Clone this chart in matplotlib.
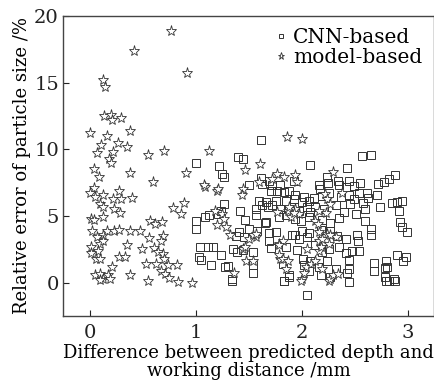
import matplotlib
matplotlib.use("Agg")
import matplotlib.pyplot as plt

# model-based (stars)
model_x = [0.77,0.42,0.92,0.125,0.145,0.14,0.20,0.21,0.30,0.00,0.16,0.38,0.27,0.11,0.355,0.07,0.22,0.18,0.20,0.55,
           0.70,1.13,0.045,0.085,0.38,0.60,0.91,1.47,0.04,0.00,0.05,0.125,0.10,0.13,0.22,0.30,0.40,0.28,0.23,0.285,
           0.125,0.015,0.04,1.09,1.20,0.89,0.79,0.86,0.57,0.62,0.68,0.02,0.125,0.07,0.16,0.235,0.28,0.38,0.48,0.095,
           0.015,0.08,0.015,0.125,0.355,0.56,0.69,0.67,0.49,0.61,0.65,0.69,0.70,0.06,0.10,0.275,0.33,0.21,0.53,0.63,
           0.74,0.82,0.67,0.715,0.75,0.05,0.095,0.125,0.17,0.19,0.095,0.38,0.555,0.83,0.97,1.45,1.44,1.185,1.25,1.27,
           1.20,1.29,1.32,1.45,1.48,1.36,1.86,2.00,1.61,2.30,1.77,1.83,1.94,1.96,1.08,1.21,1.77,1.87,1.94,1.98,
           1.90,2.38,1.57,1.50,2.05,1.79,1.80,1.85,2.00,1.99,2.26,1.60,1.72,2.22,2.24,2.27,2.16,2.23,1.88,1.93,
           2.13,2.16,2.24,2.32,2.16,2.16,1.82,1.79,1.79,1.82,1.87,2.04,2.09,2.13,2.02,2.27,2.30,2.34,1.54,1.47,
           1.54,1.57,2.19,2.27,2.18,2.26,2.19,2.15]
model_y = [18.9,17.4,15.7,15.2,14.7,12.5,12.6,12.2,12.35,11.2,11.0,11.4,10.5,10.3,10.15,9.7,9.8,9.3,9.0,9.6,
           9.9,9.9,8.55,7.9,8.2,7.55,8.2,8.45,7.1,6.7,6.4,6.6,5.9,5.7,6.3,6.3,6.35,6.9,5.55,5.25,
           4.95,4.8,4.7,7.2,6.9,5.95,5.6,5.15,4.65,4.4,4.55,3.85,3.55,3.4,3.9,3.9,3.95,3.85,3.9,2.9,
           2.65,2.4,2.25,3.15,2.85,3.35,3.5,3.15,2.55,2.6,2.3,2.15,1.8,1.75,1.8,1.9,1.9,1.2,1.4,1.4,
           1.3,1.3,0.85,0.65,0.35,0.6,0.65,0.3,0.6,0.3,0.2,0.55,0.15,0.05,0.0,7.0,6.55,5.4,5.15,4.8,
           4.3,4.15,3.55,2.5,1.65,0.7,10.9,10.8,8.9,8.3,8.15,7.9,8.1,7.55,7.3,7.05,5.3,5.4,5.55,5.15,
           4.9,6.7,3.45,3.3,2.55,2.9,1.8,1.05,0.3,0.15,0.15,7.55,7.8,6.65,6.3,5.9,5.4,5.2,5.65,5.2,
           4.65,3.8,3.65,3.4,3.15,2.4,3.15,2.8,2.05,1.75,1.65,1.15,1.4,1.65,0.75,0.3,0.55,0.65,1.65,2.65,
           3.55,3.65,3.3,3.55,2.65,2.9,1.05,4.4]

# CNN-based (squares)
cnn_x = [1.00,1.225,1.25,1.27,1.40,1.45,1.00,1.00,1.09,1.27,1.235,1.21,1.42,1.04,1.12,1.16,1.03,1.05,1.15,1.235,
         1.28,1.31,1.345,1.35,1.395,1.45,1.38,1.50,1.62,2.565,2.65,2.08,2.43,2.24,2.34,2.72,2.775,2.825,2.88,2.16,
         2.17,2.415,2.49,2.54,2.71,2.63,2.58,2.46,2.49,2.74,2.85,2.90,2.95,2.92,2.12,2.02,2.51,2.40,2.93,2.95,
         2.99,2.65,2.52,2.53,2.54,2.48,2.90,2.98,2.96,2.80,2.81,2.68,2.79,2.82,2.875,2.45,2.43,2.45,2.05,1.83,
         1.88,1.54,1.46,1.69,1.66,1.57,1.76,1.79,1.85,1.94,2.00,2.05,1.98,1.94,2.08,2.02,2.07,1.615,1.69,1.625,
         1.72,1.80,1.71,1.77,1.83,1.88,1.94,1.60,1.66,1.755,1.85,1.93,2.00,2.07,1.57,1.68,1.72,1.80,1.88,1.98,
         2.05,2.08,1.13,2.25,2.35,2.45,2.555,1.93,2.195,2.26,2.37,2.45,2.62,2.13,2.21,2.32,2.60,1.63,1.47,1.65,
         1.99,2.07,2.195,2.27,2.35,2.60,1.41,1.505,1.58,1.69,1.91,2.07,2.18,2.27,2.335,2.415,2.65,1.54,1.71,1.85,
         1.96,2.13,2.195,2.26,2.35,2.415,1.54,1.82,2.01,2.16,2.24,2.32,2.45,2.68,2.79,2.18,2.27,1.88,2.80,2.88,
         1.345,1.83]
cnn_y = [9.0,8.75,8.15,7.95,9.4,9.25,4.65,4.05,4.95,5.9,5.4,5.15,5.4,2.65,2.65,2.7,1.9,1.7,1.35,2.1,
         1.15,1.25,0.25,2.55,2.3,2.45,3.5,7.35,10.7,9.5,9.55,8.8,8.6,7.9,7.65,7.4,7.55,7.8,8.05,7.35,
         7.0,7.15,7.25,6.7,6.6,6.35,5.95,5.9,6.3,5.65,5.95,6.05,6.15,5.35,6.35,6.4,5.15,5.3,4.55,4.15,
         3.8,4.05,3.55,3.1,2.4,2.4,2.05,1.9,1.6,1.65,1.15,0.9,0.4,0.1,0.25,1.05,0.75,0.05,-0.9,0.15,
         0.4,0.75,3.4,3.1,4.55,5.1,3.8,4.9,5.05,4.8,3.9,3.4,3.3,3.55,1.65,1.3,0.9,7.85,7.6,7.4,
         7.3,7.3,6.85,6.9,6.8,6.9,6.55,6.15,6.05,6.15,6.15,6.3,6.05,6.15,5.55,5.65,5.8,5.55,5.55,5.4,
         5.65,5.3,5.05,7.5,7.3,7.6,7.45,7.6,6.5,6.7,6.4,6.6,6.75,5.7,5.5,5.8,5.5,5.85,4.7,4.5,
         4.6,4.95,4.7,4.45,4.85,4.6,3.8,4.0,3.9,3.75,3.6,3.7,3.95,3.85,3.5,3.3,3.6,2.3,2.6,2.7,
         2.45,2.8,2.3,2.55,2.7,2.25,1.3,1.4,1.75,1.2,1.6,1.0,1.7,1.5,1.1,0.6,0.4,0.55,0.15,0.15,
         0.15,0.15]

x_ticks = [0, 1, 2, 3]
y_ticks = [0, 5, 10, 15, 20]

plt.rcParams['font.family'] = ['DejaVu Serif']
fig = plt.figure(figsize=(4.35, 3.88), dpi=100)
ax = fig.add_axes([0.145, 0.186, 0.853, 0.773])
ec = '#333333'
ax.plot(cnn_x, cnn_y, linestyle='none', marker='s', markersize=5.2, markerfacecolor='none',
        markeredgecolor=ec, markeredgewidth=0.7, label='CNN-based')
ax.plot(model_x, model_y, linestyle='none', marker='*', markersize=8, markerfacecolor='white',
        markeredgecolor=ec, markeredgewidth=0.6, label='model-based')
ax.set_xlim(-0.25, 3.25)
ax.set_ylim(-2.5, 20)
ax.set_xticks(x_ticks)
ax.set_yticks(y_ticks)
ax.tick_params(direction='in', length=4, width=0.8, labelsize=14, colors='#222222', pad=3)
ax.tick_params(axis='x', pad=6)
for s in ax.spines.values():
    s.set_linewidth(1.0)
    s.set_color('#444444')
ax.set_xlabel('Difference between predicted depth and\nworking distance /mm', fontsize=13, labelpad=1, linespacing=1.0)
ax.set_ylabel('Relative error of particle size /%', fontsize=13, labelpad=2)
leg = ax.legend(loc='upper right', frameon=False, fontsize=14.5, handletextpad=0.15,
                borderaxespad=0.2, labelspacing=0.05, markerscale=0.65, handlelength=0.9)
fig.savefig('out.png', dpi=100)
